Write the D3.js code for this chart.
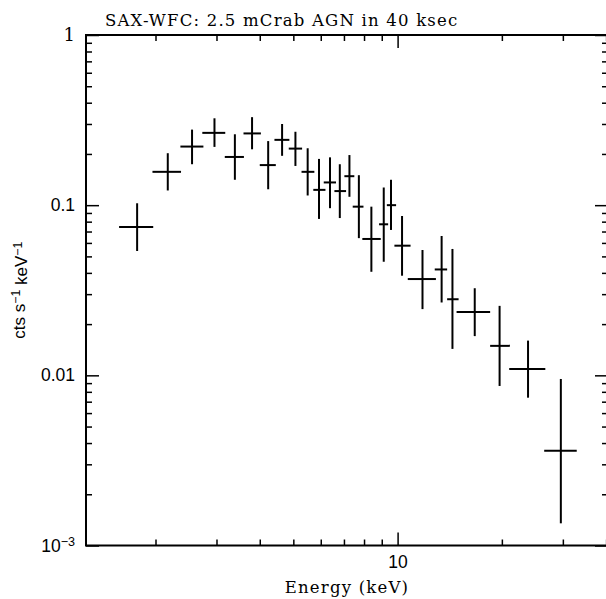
<!DOCTYPE html>
<html>
<head>
<meta charset="utf-8">
<script src="https://cdn.jsdelivr.net/npm/d3@7"></script>
<style>
  body { margin: 0; background: #fff; }
  svg { display: block; background: #fff; }
</style>
</head>
<body>
<svg id="chart" width="606" height="599"></svg>
<script>
/*
    SAX-WFC simulated spectrum, log-log, crosses = bin width x 1 sigma
 */

// bin centre and bin edges (keV)
const energy   = [1.77, 2.17, 2.55, 2.96, 3.39, 3.80, 4.23, 4.64, 5.07, 5.50, 5.93, 6.38, 6.81,
                  7.26, 7.73, 8.40, 9.12, 9.57, 10.3, 11.8, 13.4, 14.4, 16.7, 19.7, 23.8, 29.6];
const energyLo = [1.57, 1.96, 2.36, 2.73, 3.17, 3.59, 4.00, 4.41, 4.85, 5.28, 5.71, 6.12, 6.57,
                  7.02, 7.42, 7.91, 8.84, 9.31, 9.79, 10.7, 12.8, 13.9, 14.8, 18.5, 21.0, 26.5];
const energyHi = [1.97, 2.37, 2.75, 3.18, 3.60, 4.03, 4.45, 4.87, 5.30, 5.75, 6.19, 6.64, 7.10,
                  7.50, 7.97, 8.94, 9.39, 9.90, 10.9, 12.9, 13.9, 15.0, 18.5, 21.1, 26.7, 32.9];

// count rate (cts s^-1 keV^-1) and its error range
const rate   = [0.0744, 0.157, 0.221, 0.266, 0.192, 0.264, 0.172, 0.242, 0.215, 0.157, 0.123, 0.136, 0.121,
                0.148, 0.098, 0.0633, 0.0772, 0.100, 0.0578, 0.0368, 0.0419, 0.0280, 0.0236, 0.0149, 0.0109, 0.00361];
const rateLo = [0.0538, 0.122, 0.174, 0.220, 0.141, 0.213, 0.124, 0.195, 0.170, 0.114, 0.083, 0.096, 0.084,
                0.112, 0.064, 0.0406, 0.0465, 0.0715, 0.0385, 0.0245, 0.0268, 0.0143, 0.0170, 0.00866, 0.00739, 0.00135];
const rateHi = [0.1026, 0.202, 0.278, 0.324, 0.261, 0.329, 0.238, 0.300, 0.270, 0.216, 0.187, 0.191, 0.174,
                0.197, 0.150, 0.098, 0.127, 0.141, 0.0864, 0.0545, 0.0659, 0.0553, 0.0325, 0.0256, 0.0160, 0.00952];

// ticks
const xMajorTicks = [10];
const xTickLabels = ["10"];
const xMinorTicks = [2, 3, 4, 5, 6, 7, 8, 9, 20, 30, 40];
const yMajorTicks = [1, 0.1, 0.01, 0.001];
const yTickLabels = ["1", "0.1", "0.01", "10^-3"];
const yMinorTicks = [];
[0.001, 0.01, 0.1].forEach(dec => {
    for (let k = 2; k <= 9; k++) yMinorTicks.push(dec * k);
});

const plot = {left: 86, right: 608, top: 35, bottom: 545.5};
const MAJOR = 13, MINOR = 6;

const x = d3.scaleLog().domain([1.26, 40.5]).range([plot.left, plot.right]);
const y = d3.scaleLog().domain([1e-3, 1]).range([plot.bottom, plot.top]);

const svg = d3.select("#chart");
const sans = "'Liberation Sans', Arial, sans-serif";
const serif = "'DejaVu Serif', 'Liberation Serif', serif";

function addAxis(axis, transform) {
    let g = svg.append("g").attr("transform", transform).call(axis);
    g.select(".domain").remove();
    g.selectAll(".tick line").attr("stroke", "#000").attr("stroke-width", 1.5);
    g.attr("font-family", sans).attr("font-size", 17.5);
    g.selectAll(".tick text").attr("fill", "#000");
    return g;
}

// bottom + top
addAxis(d3.axisBottom(x).tickValues(xMajorTicks).tickSize(-MAJOR).tickPadding(10)
    .tickFormat((d, i) => xTickLabels[i]), `translate(0,${plot.bottom})`);
addAxis(d3.axisBottom(x).tickValues(xMinorTicks).tickSize(-MINOR).tickFormat(""),
    `translate(0,${plot.bottom})`);
addAxis(d3.axisTop(x).tickValues(xMajorTicks).tickSize(-MAJOR).tickFormat(""),
    `translate(0,${plot.top})`);
addAxis(d3.axisTop(x).tickValues(xMinorTicks).tickSize(-MINOR).tickFormat(""),
    `translate(0,${plot.top})`);

// left + right
let yAxisG = addAxis(d3.axisLeft(y).tickValues(yMajorTicks).tickSize(-MAJOR).tickPadding(11)
    .tickFormat((d, i) => yTickLabels[i]), `translate(${plot.left},0)`);
addAxis(d3.axisLeft(y).tickValues(yMinorTicks).tickSize(-MINOR).tickFormat(""),
    `translate(${plot.left},0)`);
addAxis(d3.axisRight(y).tickValues(yMajorTicks).tickSize(-MAJOR).tickFormat(""),
    `translate(${plot.right},0)`);
addAxis(d3.axisRight(y).tickValues(yMinorTicks).tickSize(-MINOR).tickFormat(""),
    `translate(${plot.right},0)`);

// the top label is drawn with a serif "1" in the original
yAxisG.selectAll(".tick text").filter(d => d === 1).attr("font-family", serif).attr("font-size", 18);

// turn "10^-3" into a real superscript
yAxisG.selectAll(".tick text").each(function() {
    let t = d3.select(this);
    let parts = t.text().split("^");
    if (parts.length < 2) return;
    t.text("");
    t.append("tspan").text(parts[0]);
    t.append("tspan").attr("dy", "-0.45em").attr("font-size", "0.72em").text(parts[1].replace("-", "\u2212"));
});

// frame
svg.append("rect")
    .attr("x", plot.left).attr("y", plot.top)
    .attr("width", plot.right - plot.left).attr("height", plot.bottom - plot.top)
    .attr("fill", "none").attr("stroke", "#000").attr("stroke-width", 2);

// error crosses
const points = d3.range(energy.length);
const marks = svg.append("g").attr("stroke", "#000").attr("stroke-width", 2);
marks.selectAll(".xbar").data(points).enter().append("line")
    .attr("class", "xbar")
    .attr("x1", i => x(energyLo[i])).attr("x2", i => x(energyHi[i]))
    .attr("y1", i => y(rate[i])).attr("y2", i => y(rate[i]));
marks.selectAll(".ybar").data(points).enter().append("line")
    .attr("class", "ybar")
    .attr("x1", i => x(energy[i])).attr("x2", i => x(energy[i]))
    .attr("y1", i => y(rateLo[i])).attr("y2", i => y(rateHi[i]));

// titles
svg.append("text")
    .attr("x", 105).attr("y", 26)
    .attr("font-family", serif).attr("font-size", 16.5)
    .attr("letter-spacing", 1.2)
    .text("SAX-WFC: 2.5 mCrab AGN in 40 ksec");

svg.append("text")
    .attr("x", (plot.left + plot.right) / 2).attr("y", 593)
    .attr("text-anchor", "middle")
    .attr("font-family", serif).attr("font-size", 16.5)
    .attr("letter-spacing", 1.2)
    .text("Energy (keV)");

let ylab = svg.append("text")
    .attr("transform", `translate(25,${(plot.top + plot.bottom) / 2}) rotate(-90)`)
    .attr("text-anchor", "middle")
    .attr("font-family", sans).attr("font-size", 17);
ylab.append("tspan").text("cts s");
ylab.append("tspan").attr("dy", "-0.45em").attr("font-size", "0.72em").text("\u22121");
ylab.append("tspan").attr("dy", "0.45em").text(" keV");
ylab.append("tspan").attr("dy", "-0.45em").attr("font-size", "0.72em").text("\u22121");
</script>
</body>
</html>
